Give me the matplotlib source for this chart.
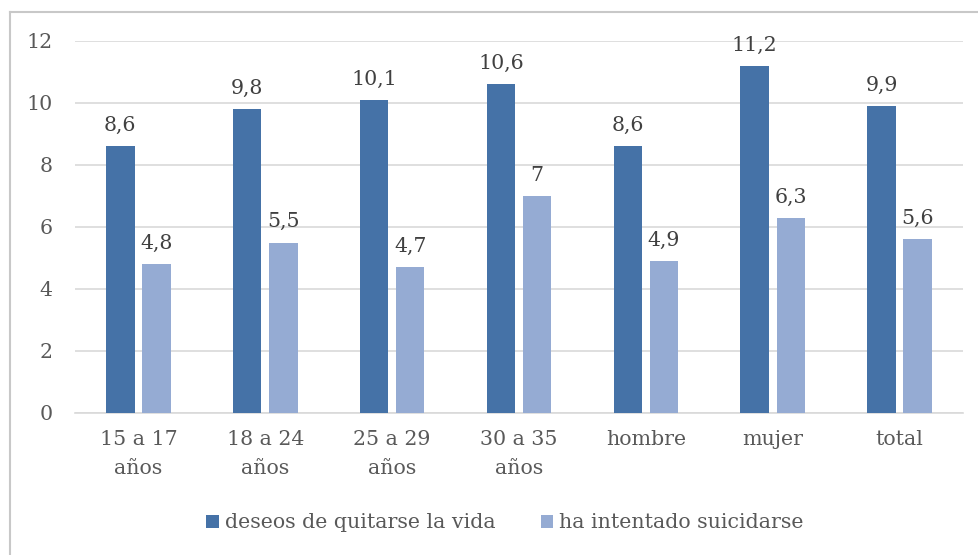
import matplotlib
matplotlib.use("Agg")
import matplotlib.pyplot as plt
import numpy as np
from matplotlib.lines import Line2D

categories = ["15 a 17\naños", "18 a 24\naños", "25 a 29\naños", "30 a 35\naños", "hombre", "mujer", "total"]
deseos = [8.6, 9.8, 10.1, 10.6, 8.6, 11.2, 9.9]
intento = [4.8, 5.5, 4.7, 7.0, 4.9, 6.3, 5.6]
series_names = ["deseos de quitarse la vida", "ha intentado suicidarse"]
yticks = [0, 2, 4, 6, 8, 10, 12]

c_dark = "#4572a7"
c_light = "#95abd3"
txt = "#404040"
tick_col = "#595959"

plt.rcParams['font.family'] = ['DejaVu Serif']

fig = plt.figure(figsize=(9.79, 5.55), dpi=100)
W, H = 979, 555
ax = fig.add_axes([75 / W, 1 - 413 / H, (963 - 75) / W, (413 - 41) / H])

# outer chart border (only left and top visible in the crop)
fig.add_artist(Line2D([9.5 / W, 9.5 / W], [0, 1 - 12 / H], transform=fig.transFigure,
                      color="#c8c8c8", linewidth=1.5))
fig.add_artist(Line2D([9.5 / W, 1], [1 - 12 / H, 1 - 12 / H], transform=fig.transFigure,
                      color="#c8c8c8", linewidth=1.5))

x = np.arange(len(categories))
bw = 0.225
gap = 0.06
off = (bw + gap) / 2
b1 = ax.bar(x - off, deseos, bw, color=c_dark, label=series_names[0], zorder=3)
b2 = ax.bar(x + off, intento, bw, color=c_light, label=series_names[1], zorder=3)

def fmt(v):
    s = ("%.1f" % v)
    if s.endswith(".0"):
        s = s[:-2]
    return s.replace(".", ",")

fs = 14.8
for bars, vals in ((b1, deseos), (b2, intento)):
    for r, v in zip(bars, vals):
        ax.annotate(fmt(v), (r.get_x() + r.get_width() / 2, v), xytext=(0, 8),
                    textcoords="offset points", ha="center", va="bottom",
                    fontsize=fs, color=txt)

ax.set_xlim(-0.5, len(categories) - 0.5)
ax.set_ylim(0, 12)
ax.set_yticks(yticks)
ax.set_yticklabels([str(t) for t in yticks], fontsize=fs, color=tick_col)
ax.set_xticks(x)
ax.set_xticklabels(categories, fontsize=fs, color=tick_col, linespacing=1.7)
ax.tick_params(axis="both", length=0)
ax.tick_params(axis="y", pad=16)
ax.tick_params(axis="x", pad=12)
ax.yaxis.grid(True, color="#d9d9d9", linewidth=1.2, zorder=0)
ax.set_axisbelow(True)
for s in ["top", "right", "left"]:
    ax.spines[s].set_visible(False)
ax.spines["bottom"].set_color("#d9d9d9")
ax.spines["bottom"].set_linewidth(1.2)

leg = fig.legend(handles=[b1, b2], labels=series_names, loc="center",
                 bbox_to_anchor=(505 / W, 1 - 523 / H), ncol=2, frameon=False,
                 fontsize=fs, handlelength=0.6, handleheight=0.6, handletextpad=0.3,
                 columnspacing=2.2)
for t in leg.get_texts():
    t.set_color(tick_col)

fig.savefig("out.png", dpi=100)
